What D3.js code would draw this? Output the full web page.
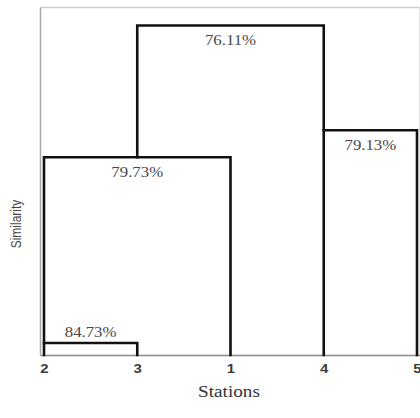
<!DOCTYPE html>
<html>
<head>
<meta charset="utf-8">
<script src="https://cdn.jsdelivr.net/npm/d3@7"></script>
<style>
  html, body { margin: 0; padding: 0; background: #fff; }
  svg { display: block; }
</style>
</head>
<body>
<svg id="chart" width="420" height="418"></svg>
<script>
// ---- data ----
const stations = ["2", "3", "1", "4", "5"];            // leaf order on x axis
const mergeLeft = ["2", "c0", "4", "c1"];              // left child of each merge
const mergeRight = ["3", "1", "5", "c2"];              // right child of each merge
const mergeHeights = [1.2, 19.8, 22.5, 33.0];          // linkage height (relative units)
const mergeLabels = ["84.73%", "79.73%", "79.13%", "76.11%"];
const clusterAnchor = ["2", "3", "4", "3"];            // leaf column where each cluster link rises
const labelSide = ["above", "below", "below", "below"];
const heightMax = 34.8;

// ---- layout ----
const svg = d3.select("#chart");
const W = 420, H = 418;
const pL = 40.5, pT = 7.5, pR = 419.5, pB = 355;

const x = d3.scalePoint().domain(stations).range([44, 417]);
const y = d3.scaleLinear().domain([0, heightMax]).range([pB, pT]);

// frame
svg.append("line").attr("x1", pL).attr("x2", pR).attr("y1", pT).attr("y2", pT)
  .attr("stroke", "#cfcfcf").attr("stroke-width", 1.5);
svg.append("line").attr("x1", pR).attr("x2", pR).attr("y1", pT).attr("y2", pB)
  .attr("stroke", "#e2e2e2").attr("stroke-width", 1);
svg.append("line").attr("x1", pL).attr("x2", pL).attr("y1", pT).attr("y2", pB)
  .attr("stroke", "#a8a8a8").attr("stroke-width", 1.5);

// x axis
const xAxis = d3.axisBottom(x).tickSize(0).tickPadding(9);
const gx = svg.append("g").attr("transform", `translate(0,${pB})`).call(xAxis);
gx.select(".domain").attr("d", `M${pL},0.5H${W}`).attr("stroke", "#8a8a8a").attr("stroke-width", 1.5);
gx.selectAll(".tick text")
  .attr("font-family", "'Liberation Sans', Arial, sans-serif")
  .attr("font-size", 13)
  .attr("font-weight", "bold")
  .attr("fill", "#3a3a3a")
  .attr("transform", "scale(1.15,1)");

// dendrogram links
const nodeInfo = {};
stations.forEach(s => { nodeInfo[s] = { anchor: s, h: 0 }; });
const g = svg.append("g").attr("stroke", "#111").attr("stroke-width", 2.6).attr("fill", "none")
  .attr("stroke-linecap", "square");

mergeLeft.forEach((lk, i) => {
  const L = nodeInfo[lk], R = nodeInfo[mergeRight[i]];
  const h = mergeHeights[i];
  const xl = x(L.anchor), xr = x(R.anchor);
  g.append("path").attr("d",
    `M${xl},${y(L.h)}V${y(h)}H${xr}V${y(R.h)}`);
  nodeInfo["c" + i] = { anchor: clusterAnchor[i], h: h };

  const cx = (xl + xr) / 2;
  const ty = labelSide[i] === "above" ? y(h) - 6 : y(h) + 20;
  svg.append("text")
    .attr("transform", `translate(${cx},${ty}) scale(1.2,1)`)
    .attr("text-anchor", "middle")
    .attr("font-family", "'Liberation Serif', 'Times New Roman', serif")
    .attr("font-size", 14)
    .attr("fill", "#474747")
    .text(mergeLabels[i]);
});

// axis titles
svg.append("text")
  .attr("transform", `translate(229,397) scale(1.2,1)`)
  .attr("text-anchor", "middle")
  .attr("font-family", "'Liberation Serif', 'Times New Roman', serif")
  .attr("font-size", 16)
  .attr("fill", "#333")
  .text("Stations");

svg.append("text")
  .attr("transform", `translate(21,224) rotate(-90) scale(1,1.15)`)
  .attr("text-anchor", "middle")
  .attr("font-family", "'Liberation Sans', Arial, sans-serif")
  .attr("font-size", 12)
  .attr("fill", "#444")
  .text("Similarity");
</script>
</body>
</html>
